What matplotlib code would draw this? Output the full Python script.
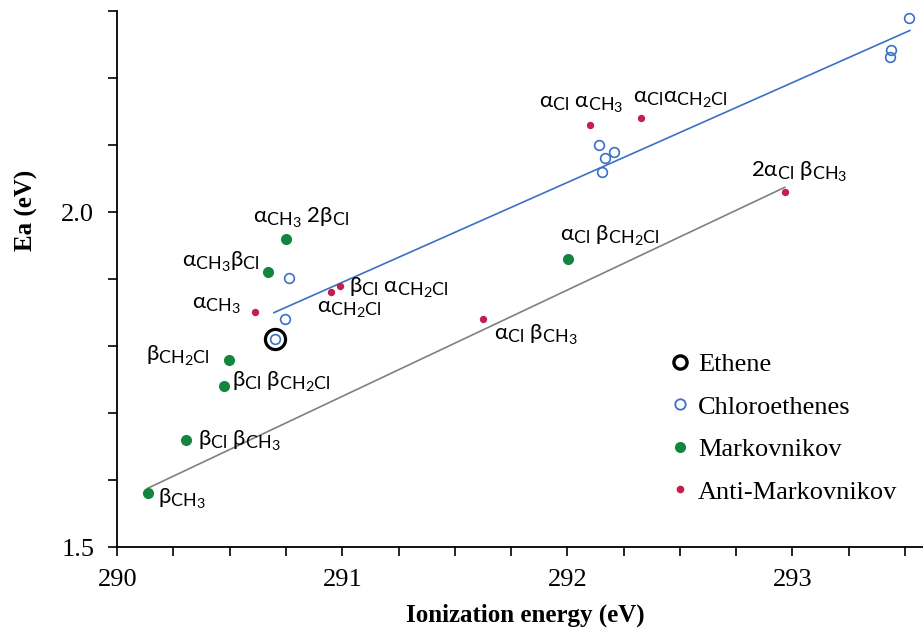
import matplotlib
matplotlib.use('Agg')
import matplotlib.pyplot as plt
import matplotlib._mathtext as mathtext_mod
from matplotlib.lines import Line2D
from matplotlib.ticker import MultipleLocator, FormatStrFormatter

plt.rcParams['mathtext.default'] = 'regular'
mathtext_mod.SHRINK_FACTOR = 0.8  # subscripts a bit bigger, like the original

# data
ethene_x = [290.70]
ethene_y = [1.810]

chloro_x = [290.70, 290.745, 290.762, 292.141, 292.206, 292.168, 292.153, 293.518, 293.438, 293.433]
chloro_y = [1.810, 1.841, 1.901, 2.100, 2.090, 2.080, 2.060, 2.289, 2.242, 2.231]

markov_x = [290.135, 290.305, 290.474, 290.496, 290.668, 290.748, 292.002]
markov_y = [1.581, 1.660, 1.740, 1.780, 1.910, 1.960, 1.930]
markov_labels = [r'β$_{CH_3}$', r'β$_{Cl}$ β$_{CH_3}$', r'β$_{Cl}$ β$_{CH_2Cl}$', r'β$_{CH_2Cl}$',
                 r'α$_{CH_3}$β$_{Cl}$', r'α$_{CH_3}$ 2β$_{Cl}$', r'α$_{Cl}$ β$_{CH_2Cl}$']

anti_x = [290.612, 290.950, 290.988, 291.627, 292.102, 292.326, 292.966]
anti_y = [1.851, 1.881, 1.890, 1.841, 2.130, 2.140, 2.030]
anti_labels = [r'α$_{CH_3}$', r'α$_{CH_2Cl}$', r'β$_{Cl}$ α$_{CH_2Cl}$', r'α$_{Cl}$ β$_{CH_3}$',
               r'α$_{Cl}$ α$_{CH_3}$', r'α$_{Cl}$α$_{CH_2Cl}$', r'2α$_{Cl}$ β$_{CH_3}$']

# fit lines (end points)
chloro_fit_x = [290.696, 293.522]
chloro_fit_y = [1.850, 2.271]
add_fit_x = [290.135, 292.966]
add_fit_y = [1.588, 2.037]

# label offsets in pixels (dx, dy, ha)
markov_off = [(10.6, -10, 'left'), (11.7, -5, 'left'), (8.3, 0, 'left'), (-19, 0, 'right'),
              (-7.7, 6, 'right'), (-32.7, 16.6, 'left'), (-7.7, 19, 'left')]
anti_off = [(-14, 4.3, 'right'), (-14.3, -20, 'left'), (9.6, -6, 'left'), (11, -20, 'left'),
            (-51, 17.6, 'left'), (-8, 16.4, 'left'), (-34, 15.6, 'left')]

blue = '#3a70c6'
green = '#13853f'
red = '#c21f4a'
serif = ['Liberation Serif', 'DejaVu Serif']
sans = ['Lato', 'Open Sans', 'DejaVu Sans']

fig = plt.figure(figsize=(9.23, 6.32), dpi=100)
ax = fig.add_axes([0.127, 0.134, 0.873, 0.8486])

ax.plot(chloro_fit_x, chloro_fit_y, color=blue, lw=1.2)
ax.plot(add_fit_x, add_fit_y, color='#808080', lw=1.2)

ax.plot(ethene_x, ethene_y, 'o', ms=14.5, mfc='none', mec='black', mew=2.3)
ax.plot(chloro_x, chloro_y, 'o', ms=7, mfc='none', mec=blue, mew=1.2)
ax.plot(markov_x, markov_y, 'o', ms=8, color=green, mec='none')
ax.plot(anti_x, anti_y, 'o', ms=5.3, color=red, mec='none')

for x, y, s, (dx, dy, ha) in zip(markov_x, markov_y, markov_labels, markov_off):
    ax.annotate(s, (x, y), xytext=(dx, dy), textcoords='offset pixels', ha=ha, va='baseline',
                fontsize=16, family=sans)
for x, y, s, (dx, dy, ha) in zip(anti_x, anti_y, anti_labels, anti_off):
    ax.annotate(s, (x, y), xytext=(dx, dy), textcoords='offset pixels', ha=ha, va='baseline',
                fontsize=16, family=sans)

ax.set_xlim(290, 293.58)
ax.set_ylim(1.5, 2.3)
ax.xaxis.set_major_locator(MultipleLocator(1))
ax.xaxis.set_minor_locator(MultipleLocator(0.25))
ax.yaxis.set_major_locator(MultipleLocator(0.5))
ax.yaxis.set_minor_locator(MultipleLocator(0.1))
ax.yaxis.set_major_formatter(FormatStrFormatter('%.1f'))
for s in ['top', 'right']:
    ax.spines[s].set_visible(False)
for s in ['left', 'bottom']:
    ax.spines[s].set_linewidth(1.3)
ax.tick_params(which='both', direction='out', length=6.5, width=1.2)
ax.tick_params(axis='x', pad=9)
ax.tick_params(axis='y', pad=10)
for lab in ax.get_xticklabels() + ax.get_yticklabels():
    lab.set_family(serif)
    lab.set_fontsize(19)

ax.set_xlabel('Ionization energy (eV)', family=serif, fontsize=18, fontweight='bold')
ax.set_ylabel('Ea (eV)', family=serif, fontsize=18, fontweight='bold')
ax.xaxis.set_label_coords(0.507, -0.105)
ax.yaxis.set_label_coords(-0.098, 0.629)

handles = [
    Line2D([], [], ls='none', marker='o', ms=9.5, mfc='none', mec='black', mew=2.4),
    Line2D([], [], ls='none', marker='o', ms=7.5, mfc='none', mec=blue, mew=1.3),
    Line2D([], [], ls='none', marker='o', ms=8, color=green, mec='none'),
    Line2D([], [], ls='none', marker='o', ms=5.5, color=red, mec='none'),
]
names = ['Ethene', 'Chloroethenes', 'Markovnikov', 'Anti-Markovnikov']
ax.legend(handles, names, loc='upper left', bbox_to_anchor=(0.685, 0.363), frameon=False,
          prop={'family': serif, 'size': 19}, handlelength=0.8, handletextpad=0.3,
          labelspacing=0.72, borderpad=0, borderaxespad=0)

fig.savefig('out.png', dpi=100)
